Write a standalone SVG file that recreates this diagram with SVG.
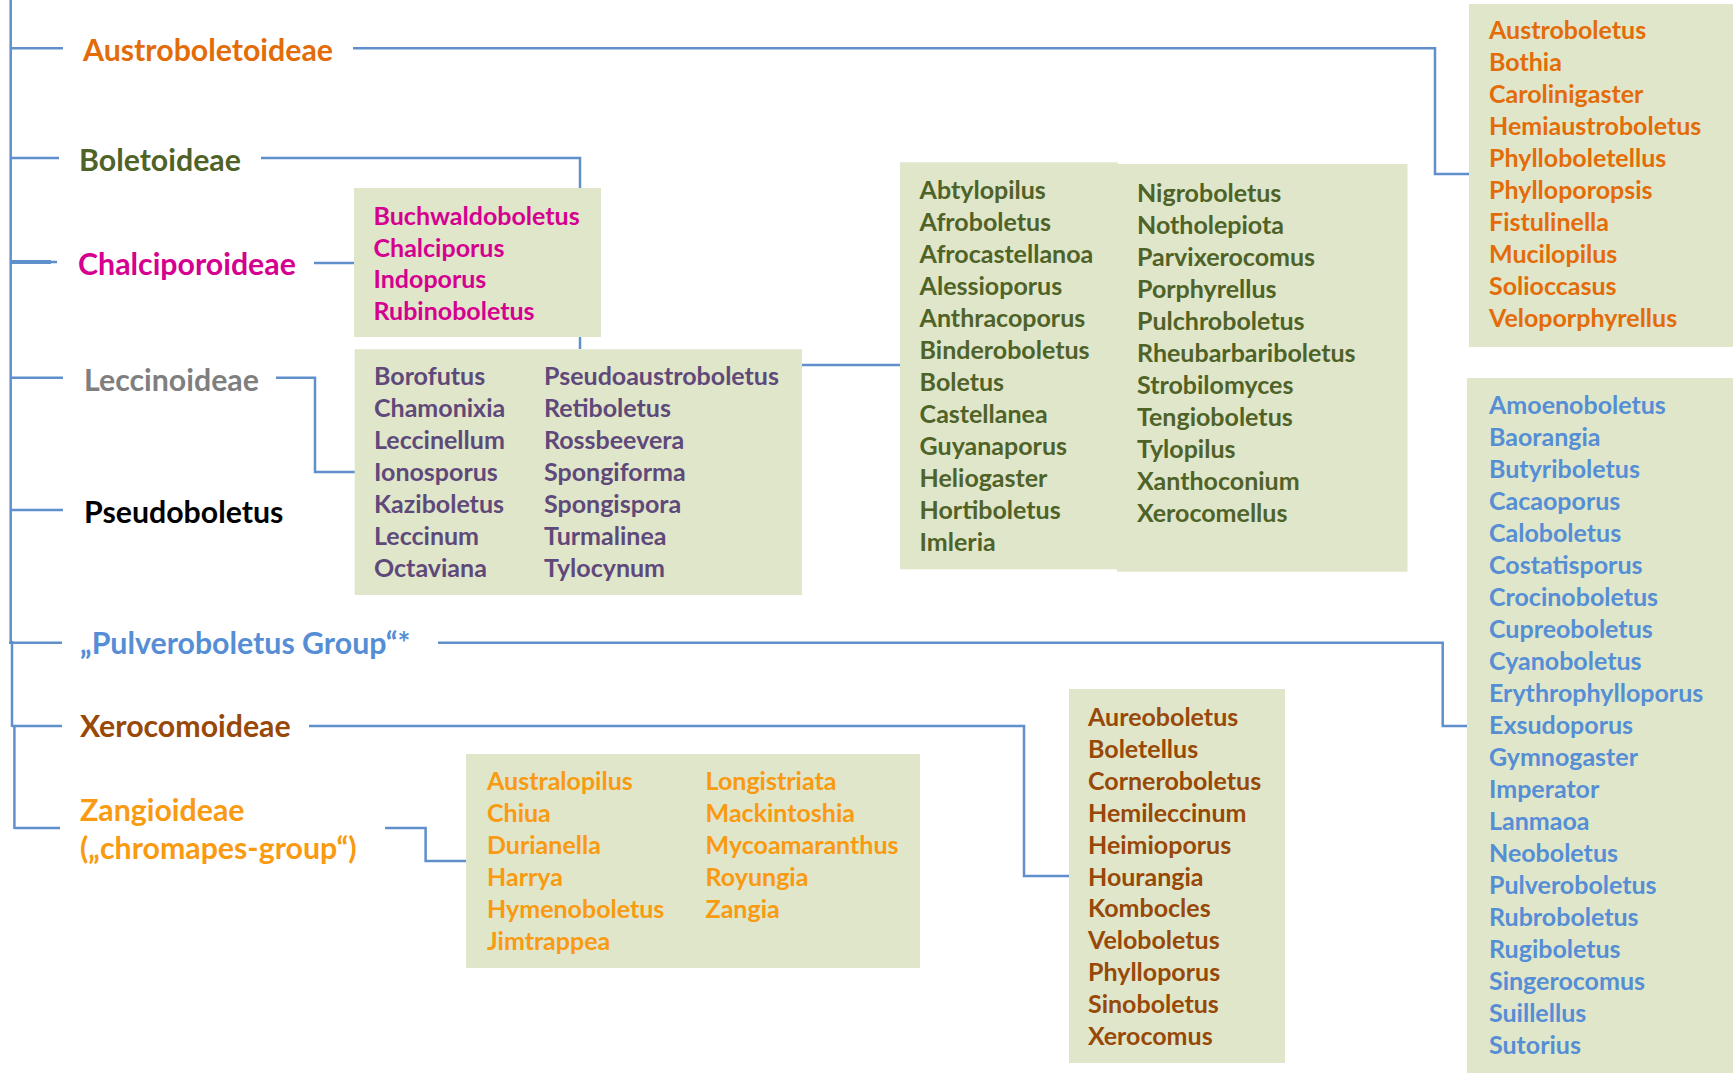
<svg xmlns="http://www.w3.org/2000/svg" width="1733" height="1073" viewBox="0 0 1733 1073">
<style>
text{font-family:Lato,"Open Sans","Liberation Sans",sans-serif;font-weight:bold}
.t{font-size:30.3px}
.l{font-size:25px}
.box{fill:#dfe6c9}
.c{fill:none;stroke:#5f90cc;stroke-width:2.5}
.or{fill:#e36c09}.gr{fill:#4f6228}.mg{fill:#d5008f}.gy{fill:#7f7f7f}.pu{fill:#5f497a}.bk{fill:#000}.bl{fill:#558ed5}.br{fill:#984807}.zg{fill:#f99a11}
</style>
<g id="connectors" class="c">
<path d="M10.7 0V643"/>
<path d="M12 641V727"/>
<path d="M14.4 725V829"/>
<path d="M10.7 48.3H63"/>
<path d="M10.7 158H59"/>
<path d="M10.7 262H51" stroke-width="4"/>
<path d="M10.7 262H57"/>
<path d="M10.5 377.7H63"/>
<path d="M10.5 510H63"/>
<path d="M9 642.7H62"/>
<path d="M12 726H62"/>
<path d="M14.4 828H60"/>
<path d="M353 48.3H1435V174H1469"/>
<path d="M261 158H580V349"/>
<path d="M314 263H354"/>
<path d="M276 377.7H315V472H355"/>
<path d="M802 365H900"/>
<path d="M438 642.7H1442.7V726H1467"/>
<path d="M309 726H1024V876H1069"/>
<path d="M385 828H425.6V861H466"/>
</g>
<g id="austroboletoideae">
<text class="t or" x="83" y="61">Austroboletoideae</text>
<rect class="box" x="1469" y="4" width="264" height="343"/>
<text class="l or"><tspan x="1489" y="39.3">Austroboletus</tspan><tspan x="1489" dy="32">Bothia</tspan><tspan x="1489" dy="32">Carolinigaster</tspan><tspan x="1489" dy="32">Hemiaustroboletus</tspan><tspan x="1489" dy="32">Phylloboletellus</tspan><tspan x="1489" dy="32">Phylloporopsis</tspan><tspan x="1489" dy="32">Fistulinella</tspan><tspan x="1489" dy="32">Mucilopilus</tspan><tspan x="1489" dy="32">Solioccasus</tspan><tspan x="1489" dy="32">Veloporphyrellus</tspan></text>
</g>
<g id="boletoideae">
<text class="t gr" x="79" y="171">Boletoideae</text>
<rect class="box" x="900" y="162.3" width="218" height="407"/>
<rect class="box" x="1117" y="164" width="290.5" height="407.7"/>
<text class="l gr"><tspan x="919.6" y="199.3">Abtylopilus</tspan><tspan x="919.6" dy="32">Afroboletus</tspan><tspan x="919.6" dy="32">Afrocastellanoa</tspan><tspan x="919.6" dy="32">Alessioporus</tspan><tspan x="919.6" dy="32">Anthracoporus</tspan><tspan x="919.6" dy="32">Binderoboletus</tspan><tspan x="919.6" dy="32">Boletus</tspan><tspan x="919.6" dy="32">Castellanea</tspan><tspan x="919.6" dy="32">Guyanaporus</tspan><tspan x="919.6" dy="32">Heliogaster</tspan><tspan x="919.6" dy="32">Hortiboletus</tspan><tspan x="919.6" dy="32">Imleria</tspan></text>
<text class="l gr"><tspan x="1137" y="201.7">Nigroboletus</tspan><tspan x="1137" dy="32">Notholepiota</tspan><tspan x="1137" dy="32">Parvixerocomus</tspan><tspan x="1137" dy="32">Porphyrellus</tspan><tspan x="1137" dy="32">Pulchroboletus</tspan><tspan x="1137" dy="32">Rheubarbariboletus</tspan><tspan x="1137" dy="32">Strobilomyces</tspan><tspan x="1137" dy="32">Tengioboletus</tspan><tspan x="1137" dy="32">Tylopilus</tspan><tspan x="1137" dy="32">Xanthoconium</tspan><tspan x="1137" dy="32">Xerocomellus</tspan></text>
</g>
<g id="chalciporoideae">
<text class="t mg" x="78" y="275">Chalciporoideae</text>
<rect class="box" x="354" y="188" width="247" height="149"/>
<text class="l mg"><tspan x="373.5" y="225">Buchwaldoboletus</tspan><tspan x="373.5" dy="31.7">Chalciporus</tspan><tspan x="373.5" dy="31.7">Indoporus</tspan><tspan x="373.5" dy="31.7">Rubinoboletus</tspan></text>
</g>
<g id="leccinoideae">
<text class="t gy" x="84" y="391">Leccinoideae</text>
<rect class="box" x="354.6" y="349.3" width="447.4" height="245.7"/>
<text class="l pu"><tspan x="374" y="385">Borofutus</tspan><tspan x="374" dy="32">Chamonixia</tspan><tspan x="374" dy="32">Leccinellum</tspan><tspan x="374" dy="32">Ionosporus</tspan><tspan x="374" dy="32">Kaziboletus</tspan><tspan x="374" dy="32">Leccinum</tspan><tspan x="374" dy="32">Octaviana</tspan></text>
<text class="l pu"><tspan x="544" y="385">Pseudoaustroboletus</tspan><tspan x="544" dy="32">Retiboletus</tspan><tspan x="544" dy="32">Rossbeevera</tspan><tspan x="544" dy="32">Spongiforma</tspan><tspan x="544" dy="32">Spongispora</tspan><tspan x="544" dy="32">Turmalinea</tspan><tspan x="544" dy="32">Tylocynum</tspan></text>
</g>
<g id="pseudoboletus">
<text class="t bk" x="84" y="523">Pseudoboletus</text>
</g>
<g id="pulveroboletus-group">
<text class="t bl" x="80" y="654">„Pulveroboletus Group“*</text>
<rect class="box" x="1467" y="378" width="266" height="695"/>
<text class="l bl"><tspan x="1489" y="413.6">Amoenoboletus</tspan><tspan x="1489" dy="32">Baorangia</tspan><tspan x="1489" dy="32">Butyriboletus</tspan><tspan x="1489" dy="32">Cacaoporus</tspan><tspan x="1489" dy="32">Caloboletus</tspan><tspan x="1489" dy="32">Costatisporus</tspan><tspan x="1489" dy="32">Crocinoboletus</tspan><tspan x="1489" dy="32">Cupreoboletus</tspan><tspan x="1489" dy="32">Cyanoboletus</tspan><tspan x="1489" dy="32">Erythrophylloporus</tspan><tspan x="1489" dy="32">Exsudoporus</tspan><tspan x="1489" dy="32">Gymnogaster</tspan><tspan x="1489" dy="32">Imperator</tspan><tspan x="1489" dy="32">Lanmaoa</tspan><tspan x="1489" dy="32">Neoboletus</tspan><tspan x="1489" dy="32">Pulveroboletus</tspan><tspan x="1489" dy="32">Rubroboletus</tspan><tspan x="1489" dy="32">Rugiboletus</tspan><tspan x="1489" dy="32">Singerocomus</tspan><tspan x="1489" dy="32">Suillellus</tspan><tspan x="1489" dy="32">Sutorius</tspan></text>
</g>
<g id="xerocomoideae">
<text class="t br" x="80" y="737">Xerocomoideae</text>
<rect class="box" x="1069" y="689" width="216" height="374"/>
<text class="l br"><tspan x="1088" y="726">Aureoboletus</tspan><tspan x="1088" dy="31.9">Boletellus</tspan><tspan x="1088" dy="31.9">Corneroboletus</tspan><tspan x="1088" dy="31.9">Hemileccinum</tspan><tspan x="1088" dy="31.9">Heimioporus</tspan><tspan x="1088" dy="31.9">Hourangia</tspan><tspan x="1088" dy="31.9">Kombocles</tspan><tspan x="1088" dy="31.9">Veloboletus</tspan><tspan x="1088" dy="31.9">Phylloporus</tspan><tspan x="1088" dy="31.9">Sinoboletus</tspan><tspan x="1088" dy="31.9">Xerocomus</tspan></text>
</g>
<g id="zangioideae">
<text class="t zg"><tspan x="80" y="821">Zangioideae</tspan><tspan x="80" y="859">(„chromapes-group“)</tspan></text>
<rect class="box" x="466" y="754" width="454" height="214"/>
<text class="l zg"><tspan x="487" y="790">Australopilus</tspan><tspan x="487" dy="32">Chiua</tspan><tspan x="487" dy="32">Durianella</tspan><tspan x="487" dy="32">Harrya</tspan><tspan x="487" dy="32">Hymenoboletus</tspan><tspan x="487" dy="32">Jimtrappea</tspan></text>
<text class="l zg"><tspan x="705.6" y="790">Longistriata</tspan><tspan x="705.6" dy="32">Mackintoshia</tspan><tspan x="705.6" dy="32">Mycoamaranthus</tspan><tspan x="705.6" dy="32">Royungia</tspan><tspan x="705.6" dy="32">Zangia</tspan></text>
</g>
</svg>
